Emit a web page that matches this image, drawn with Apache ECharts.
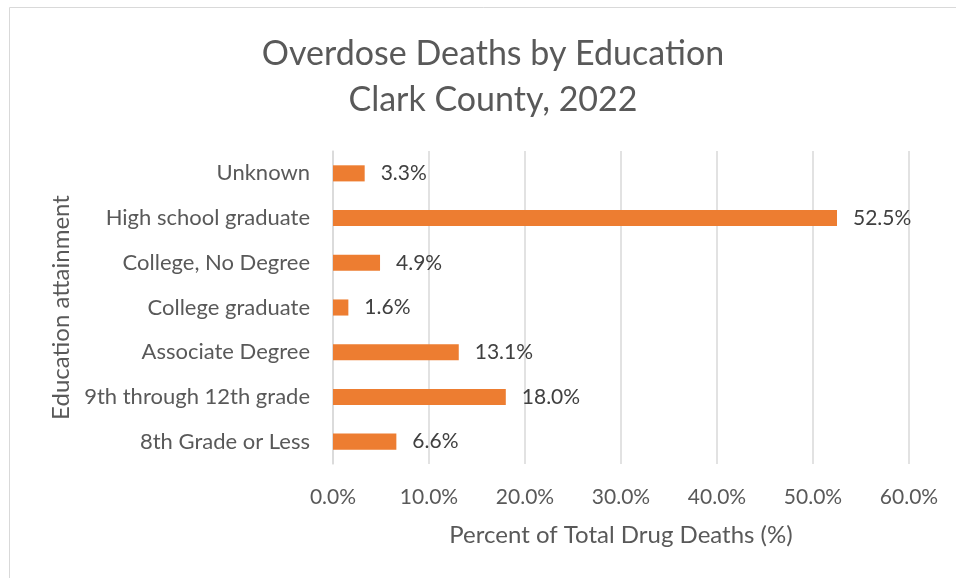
<!DOCTYPE html>
<html>
<head>
<meta charset="utf-8">
<script src="https://cdn.jsdelivr.net/npm/echarts@6/dist/echarts.min.js"></script>
<style>
  html, body { margin: 0; padding: 0; background: #fff; }
  #chart { width: 956px; height: 578px; }
</style>
</head>
<body>
<div id="chart"></div>
<script>
// Education levels, listed bottom to top as they appear on the axis
const categories = [
  '8th Grade or Less',
  '9th through 12th grade',
  'Associate Degree',
  'College graduate',
  'College, No Degree',
  'High school graduate',
  'Unknown'
];
// Share of total drug deaths (%)
const percentOfDeaths = [6.6, 18.0, 13.1, 1.6, 4.9, 52.5, 3.3];
// Value axis range and step (%)
const axisMin = 0;
const axisMax = 60;
const axisStep = 10;

const FONT = 'Lato';
const chart = echarts.init(document.getElementById('chart'));

chart.setOption({
  animation: false,
  textStyle: { fontFamily: FONT },
  graphic: [{
    type: 'rect',
    shape: { x: 9.5, y: 7.5, width: 980, height: 600 },
    style: { fill: 'none', stroke: '#d9d9d9', lineWidth: 1 },
    silent: true
  }],
  title: {
    text: 'Overdose Deaths by Education\nClark County, 2022',
    left: 488,
    textAlign: 'center',
    top: 26,
    textStyle: {
      fontFamily: FONT,
      fontWeight: 'normal',
      fontSize: 34,
      lineHeight: 46,
      color: '#595959'
    }
  },
  grid: { left: 333, right: 47, top: 151, bottom: 114 },
  xAxis: {
    type: 'value',
    min: axisMin,
    max: axisMax,
    interval: axisStep,
    name: 'Percent of Total Drug Deaths (%)',
    nameLocation: 'middle',
    nameGap: 59,
    nameTextStyle: { fontFamily: FONT, fontSize: 24, color: '#595959' },
    axisLine: { show: false },
    axisTick: { show: false },
    axisLabel: {
      margin: 23,
      fontSize: 21,
      color: '#595959',
      formatter: v => v.toFixed(1) + '%'
    },
    splitLine: { lineStyle: { color: '#d9d9d9', width: 1.5 } }
  },
  yAxis: {
    type: 'category',
    data: categories,
    name: 'Education attainment',
    nameLocation: 'middle',
    nameGap: 259,
    nameRotate: 90,
    nameTextStyle: { fontFamily: FONT, fontSize: 24, color: '#595959' },
    axisLine: { show: true, lineStyle: { color: '#d9d9d9', width: 1.5 } },
    axisTick: { show: false },
    axisLabel: { margin: 23, fontSize: 22, color: '#595959' }
  },
  series: [{
    type: 'bar',
    data: percentOfDeaths,
    barWidth: '36%',
    itemStyle: { color: '#ED7D31' },
    label: {
      show: true,
      position: 'right',
      distance: 16,
      fontSize: 21,
      color: '#404040',
      formatter: p => p.value.toFixed(1) + '%'
    }
  }]
});
</script>
</body>
</html>
